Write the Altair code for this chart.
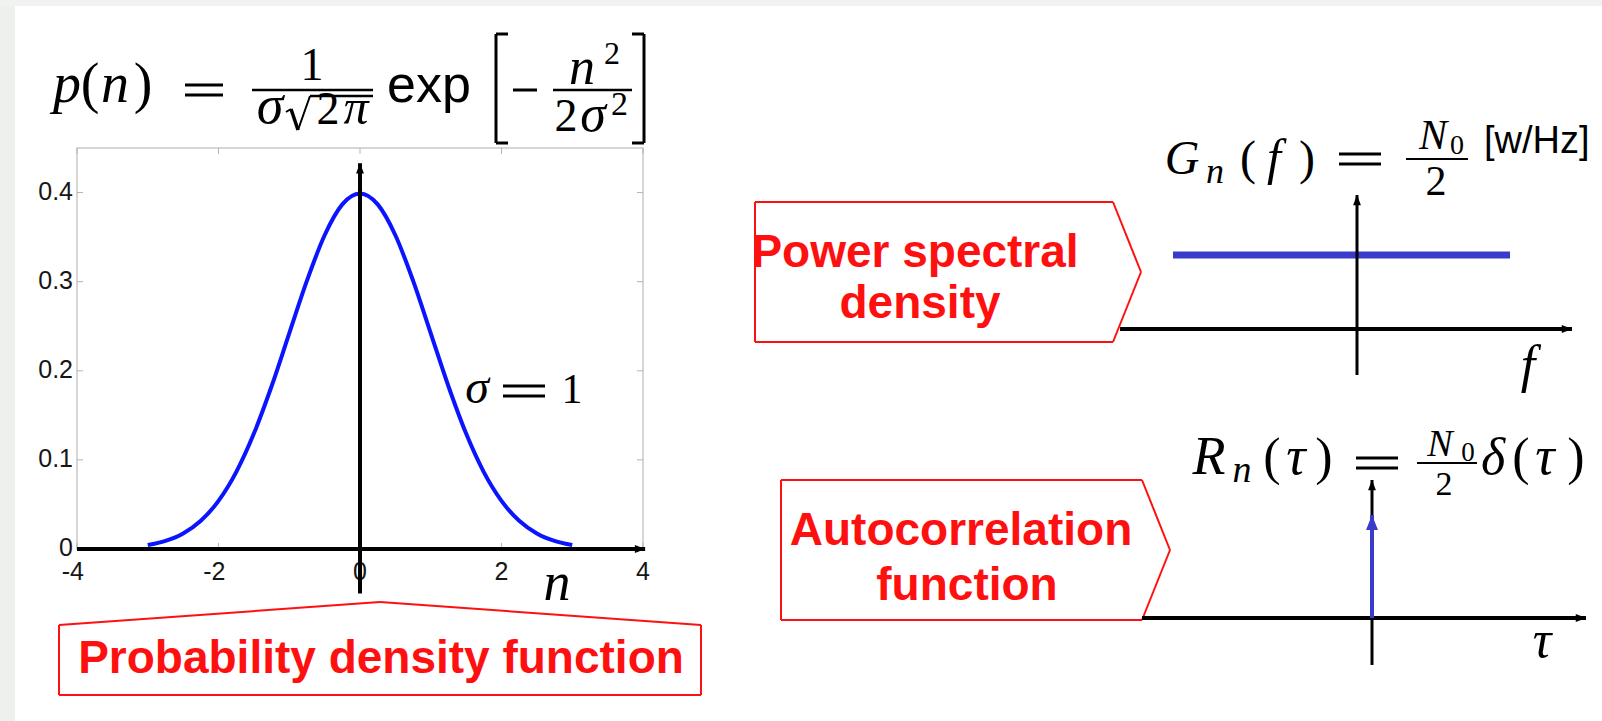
import altair as alt
import pandas as pd

# ---------------------------------------------------------------- data
# Gaussian noise pdf (sigma = 1), sampled along n
N_VALUES = [-3.0, -2.75, -2.5, -2.25, -2.0, -1.75, -1.5, -1.25, -1.0, -0.75, -0.5, -0.25, 0.0,
            0.25, 0.5, 0.75, 1.0, 1.25, 1.5, 1.75, 2.0, 2.25, 2.5, 2.75, 3.0]
PDF_VALUES = [0.0044, 0.0091, 0.0175, 0.0317, 0.0540, 0.0863, 0.1295, 0.1826, 0.2420, 0.3011,
              0.3521, 0.3867, 0.3989, 0.3867, 0.3521, 0.3011, 0.2420, 0.1826, 0.1295, 0.0863,
              0.0540, 0.0317, 0.0175, 0.0091, 0.0044]
X_TICKS = [-4, -2, 0, 2, 4]
X_TICK_LABELS = ["-4", "-2", "0", "2", "4"]
Y_TICKS = [0.0, 0.1, 0.2, 0.3, 0.4]
Y_TICK_LABELS = ["0", "0.1", "0.2", "0.3", "0.4"]

# white noise: flat PSD N0/2 and an impulse autocorrelation of weight N0/2
PSD_F = [-0.92, 0.765]
PSD_LEVEL = [0.5, 0.5]
ACF_TAU = [0.0]
ACF_WEIGHT = [0.5]

# extents of the drawn coordinate arrows (in each panel's own units)
N_AXIS_SPAN = [-4.0, 4.03]
P_AXIS_SPAN = [-0.05, 0.433]
F_AXIS_SPAN = [-1.185, 1.075]
G_AXIS_SPAN = [-0.311, 0.905]
TAU_AXIS_SPAN = [-1.15, 1.07]
R_AXIS_SPAN = [-0.228, 0.67]

# ---------------------------------------------------------------- style
SERIF = "Liberation Serif, Times New Roman, serif"
SANS = "Liberation Sans, Arial, sans-serif"
RED = "#ff1010"
FRAME_GREY = "#c9c9c9"
TICK_GREY = "#b4b4b4"
CURVE_BLUE = "#0a14ff"
NOISE_BLUE = "#3a3acb"
ARROW_RIGHT = "M1,0L-1,-0.75L-1,0.75Z"
ARROW_UP = "M0,-1L-0.75,1L0.75,1Z"
DELTA_HEAD = "M0,-1L0.8,1L-0.8,1Z"

# each panel gets its own scales, placed on the page through the range
XS = alt.Scale(domain=[-4, 4], range=[77, 643], nice=False, zero=False)
YS = alt.Scale(domain=[0, 0.45], range=[549, 148], nice=False, zero=False)
FS = alt.Scale(domain=[-1, 1], range=[1157, 1557], nice=False, zero=False)
GS = alt.Scale(domain=[0, 1], range=[329, 181], nice=False, zero=False)
TS = alt.Scale(domain=[-1, 1], range=[1172, 1572], nice=False, zero=False)
RS = alt.Scale(domain=[0, 1], range=[618, 412], nice=False, zero=False)

ONE = pd.DataFrame({"k": [0]})


def txt(s, x, y, size, font=SERIF, style="normal", weight="normal", color="black",
        align="left", baseline="alphabetic"):
    return alt.Chart(ONE).mark_text(
        text=s, font=font, fontSize=size, fontStyle=style, fontWeight=weight,
        color=color, align=align, baseline=baseline,
    ).encode(x=alt.value(x), y=alt.value(y))


def glyph(s, cx, y, size, style="normal"):
    """A single math glyph centred horizontally on cx, sitting on baseline y."""
    return txt(s, cx, y, size, style=style, align="center")


def seg(x1, y1, x2, y2, color="black", width=2.0, cap="butt"):
    return alt.Chart(ONE).mark_rule(color=color, strokeWidth=width, strokeCap=cap).encode(
        x=alt.value(x1), y=alt.value(y1), x2=alt.value(x2), y2=alt.value(y2)
    )


def equals(x1, x2, yc, gap=10, width=3.0):
    return [seg(x1, yc - gap / 2, x2, yc - gap / 2, width=width),
            seg(x1, yc + gap / 2, x2, yc + gap / 2, width=width)]


def arrow_axes(xs, ys, x_span, y_span, w_h, w_v):
    """Horizontal and vertical coordinate arrows crossing at the origin."""
    h = alt.Chart(pd.DataFrame({"a": [x_span[0]], "b": [x_span[1]], "z": [0.0]})).mark_rule(
        color="black", strokeWidth=w_h
    ).encode(x=alt.X("a:Q", scale=xs, axis=None), x2="b:Q", y=alt.Y("z:Q", scale=ys, axis=None))
    h_head = alt.Chart(pd.DataFrame({"a": [x_span[1]], "z": [0.0]})).mark_point(
        shape=ARROW_RIGHT, filled=True, size=110, color="black", opacity=1, xOffset=-5
    ).encode(x=alt.X("a:Q", scale=xs, axis=None), y=alt.Y("z:Q", scale=ys, axis=None))
    v = alt.Chart(pd.DataFrame({"a": [y_span[0]], "b": [y_span[1]], "z": [0.0]})).mark_rule(
        color="black", strokeWidth=w_v
    ).encode(x=alt.X("z:Q", scale=xs, axis=None), y=alt.Y("a:Q", scale=ys, axis=None), y2="b:Q")
    v_head = alt.Chart(pd.DataFrame({"a": [y_span[1]], "z": [0.0]})).mark_point(
        shape=ARROW_UP, filled=True, size=110, color="black", opacity=1, yOffset=5
    ).encode(x=alt.X("z:Q", scale=xs, axis=None), y=alt.Y("a:Q", scale=ys, axis=None))
    return h, h_head, v, v_head


# ---------------------------------------------------------------- page
page = [
    alt.Chart(ONE).mark_rect(color="#edf0ed").encode(
        x=alt.value(0), x2=alt.value(15), y=alt.value(0), y2=alt.value(721)),
    alt.Chart(ONE).mark_rect(color="#f1f3f1").encode(
        x=alt.value(0), x2=alt.value(1602), y=alt.value(0), y2=alt.value(6)),
]

# ---------------------------------------------------------------- left panel: pdf
frame_df = pd.DataFrame({"x0": [-4], "x1": [4], "y0": [0.0], "y1": [0.45]})
frame = alt.Chart(frame_df).mark_rect(fill="transparent", stroke=FRAME_GREY, strokeWidth=1.5).encode(
    x=alt.X("x0:Q", scale=XS, axis=None), x2="x1:Q",
    y=alt.Y("y0:Q", scale=YS, axis=None), y2="y1:Q")

xt = pd.DataFrame({"v": X_TICKS, "label": X_TICK_LABELS, "lo": 0.0, "hi": 0.45})
yt = pd.DataFrame({"v": Y_TICKS, "label": Y_TICK_LABELS, "lo": -4.0, "hi": 4.0})

ticks = [
    alt.Chart(xt).mark_rule(color=TICK_GREY, strokeWidth=1, y2Offset=6).encode(
        x=alt.X("v:Q", scale=XS, axis=None), y=alt.Y("hi:Q", scale=YS, axis=None), y2="hi:Q"),
    alt.Chart(xt).mark_rule(color=TICK_GREY, strokeWidth=1, y2Offset=-6).encode(
        x=alt.X("v:Q", scale=XS, axis=None), y=alt.Y("lo:Q", scale=YS, axis=None), y2="lo:Q"),
    alt.Chart(yt).mark_rule(color=TICK_GREY, strokeWidth=1, x2Offset=6).encode(
        y=alt.Y("v:Q", scale=YS, axis=None), x=alt.X("lo:Q", scale=XS, axis=None), x2="lo:Q"),
    alt.Chart(yt).mark_rule(color=TICK_GREY, strokeWidth=1, x2Offset=-6).encode(
        y=alt.Y("v:Q", scale=YS, axis=None), x=alt.X("hi:Q", scale=XS, axis=None), x2="hi:Q"),
]

x_labels = alt.Chart(xt).mark_text(font=SANS, fontSize=25, align="right", baseline="middle",
                                   dx=7, dy=23, color="#161616").encode(
    x=alt.X("v:Q", scale=XS, axis=None), y=alt.Y("lo:Q", scale=YS, axis=None), text="label:N")
y_labels = alt.Chart(yt).mark_text(font=SANS, fontSize=25, align="right", baseline="middle",
                                   dx=-4, dy=-1, color="#161616").encode(
    x=alt.X("lo:Q", scale=XS, axis=None), y=alt.Y("v:Q", scale=YS, axis=None), text="label:N")

curve = alt.Chart(pd.DataFrame({"n": N_VALUES, "p": PDF_VALUES})).mark_line(
    color=CURVE_BLUE, strokeWidth=4, interpolate="monotone").encode(
    x=alt.X("n:Q", scale=XS, axis=None), y=alt.Y("p:Q", scale=YS, axis=None))

pdf_panel = alt.layer(frame, *ticks, curve, x_labels, y_labels,
                      *arrow_axes(XS, YS, N_AXIS_SPAN, P_AXIS_SPAN, 4, 4))

# ---------------------------------------------------------------- right top: PSD
psd_line = alt.Chart(pd.DataFrame({"f": PSD_F, "g": PSD_LEVEL})).mark_line(
    color=NOISE_BLUE, strokeWidth=7, strokeCap="butt").encode(
    x=alt.X("f:Q", scale=FS, axis=None), y=alt.Y("g:Q", scale=GS, axis=None))
psd_panel = alt.layer(psd_line, *arrow_axes(FS, GS, F_AXIS_SPAN, G_AXIS_SPAN, 4, 3))

# ---------------------------------------------------------------- right bottom: autocorrelation
acf_df = pd.DataFrame({"tau": ACF_TAU, "w": ACF_WEIGHT, "z": [0.0] * len(ACF_TAU)})
acf_axes = arrow_axes(TS, RS, TAU_AXIS_SPAN, R_AXIS_SPAN, 4, 3)
delta_stem = alt.Chart(acf_df).mark_rule(color=NOISE_BLUE, strokeWidth=4).encode(
    x=alt.X("tau:Q", scale=TS, axis=None), y=alt.Y("z:Q", scale=RS, axis=None), y2="w:Q")
delta_head = alt.Chart(acf_df).mark_point(shape=DELTA_HEAD, filled=True, size=225,
                                          color=NOISE_BLUE, opacity=1, yOffset=7.5).encode(
    x=alt.X("tau:Q", scale=TS, axis=None), y=alt.Y("w:Q", scale=RS, axis=None))
acf_panel = alt.layer(*acf_axes, delta_stem, delta_head)

# ---------------------------------------------------------------- callouts
callouts = [
    # pdf: box with a roof pointing up at the curve
    seg(59, 625, 380, 602, RED, 2), seg(380, 602, 701, 625, RED, 2),
    seg(59, 625, 59, 695, RED, 2), seg(701, 625, 701, 695, RED, 2),
    seg(59, 695, 701, 695, RED, 2),
    txt("Probability density function", 381, 673, 46, SANS, weight="bold", color=RED, align="center"),
    # psd: box pointing right
    seg(755, 202, 1113, 202, RED, 2), seg(755, 202, 755, 342, RED, 2),
    seg(755, 342, 1113, 342, RED, 2), seg(1113, 202, 1141, 272, RED, 2),
    seg(1141, 272, 1113, 342, RED, 2),
    txt("Power spectral", 915, 267, 46, SANS, weight="bold", color=RED, align="center"),
    txt("density", 920, 318, 46, SANS, weight="bold", color=RED, align="center"),
    # autocorrelation: box pointing right
    seg(781, 480, 1142, 480, RED, 2), seg(781, 480, 781, 620, RED, 2),
    seg(781, 620, 1142, 620, RED, 2), seg(1142, 480, 1170, 550, RED, 2),
    seg(1170, 550, 1142, 620, RED, 2),
    txt("Autocorrelation", 961, 545, 46, SANS, weight="bold", color=RED, align="center"),
    txt("function", 967, 600, 46, SANS, weight="bold", color=RED, align="center"),
]

# ---------------------------------------------------------------- formulas and axis names
pdf_formula = [
    glyph("p", 67, 102, 56, "italic"),
    glyph("(", 90, 102, 56),
    glyph("n", 115, 102, 56, "italic"),
    glyph(")", 143, 102, 56),
    *equals(185, 223, 90),
    seg(252, 90, 373, 90, width=2.5),
    glyph("1", 312, 80, 46),
    glyph("σ", 270, 123, 54, "italic"),
    seg(286, 112, 291, 109, width=2), seg(291, 109, 298, 130, width=3.5),
    seg(298, 130, 310, 96, width=2), seg(310, 96, 373, 96, width=2.5),
    glyph("2", 328, 124, 46),
    glyph("π", 356, 124, 50, "italic"),
    txt("exp", 387, 102, 52, SANS),
    seg(496, 34, 496, 143, width=3), seg(496, 34, 508, 34, width=3), seg(496, 143, 508, 143, width=3),
    seg(513, 90, 537, 90, width=3),
    seg(553, 90, 632, 90, width=2.5),
    glyph("n", 582, 84, 52, "italic"),
    txt("2", 604, 64, 32),
    glyph("2", 566, 131, 46),
    glyph("σ", 593, 131, 52, "italic"),
    txt("2", 611, 115, 34),
    seg(644, 34, 644, 143, width=3), seg(632, 34, 644, 34, width=3), seg(632, 143, 644, 143, width=3),
]
sigma_note = [
    glyph("σ", 477, 403, 48, "italic"),
    *equals(503, 545, 391, gap=10, width=3),
    glyph("1", 572, 403, 42),
]
psd_formula = [
    glyph("G", 1182, 174, 48, "italic"),
    glyph("n", 1215, 183, 36, "italic"),
    glyph("(", 1248, 174, 48),
    glyph("f", 1274, 174, 50, "italic"),
    glyph(")", 1307, 174, 48),
    *equals(1339, 1381, 159),
    seg(1406, 159, 1468, 159, width=2),
    glyph("N", 1433, 149, 42, "italic"),
    glyph("0", 1457, 154, 28),
    glyph("2", 1436, 195, 42),
    txt("[w/Hz]", 1484, 153, 38, SANS),
]
acf_formula = [
    glyph("R", 1209, 474, 54, "italic"),
    glyph("n", 1242, 482, 38, "italic"),
    glyph("(", 1272, 474, 52),
    glyph("τ", 1296, 474, 54, "italic"),
    glyph(")", 1324, 474, 52),
    *equals(1356, 1398, 463),
    seg(1417, 463, 1477, 463, width=2),
    glyph("N", 1440, 456, 38, "italic"),
    glyph("0", 1468, 461, 27),
    glyph("2", 1444, 495, 34),
    glyph("δ", 1493, 474, 52, "italic"),
    glyph("(", 1521, 474, 52),
    glyph("τ", 1545, 474, 54, "italic"),
    glyph(")", 1576, 474, 52),
]
axis_names = [
    glyph("n", 557, 600, 54, "italic"),
    glyph("f", 1528, 382, 52, "italic"),
    glyph("τ", 1542, 657, 52, "italic"),
]

chart = alt.layer(
    *page, *callouts, pdf_panel, psd_panel, acf_panel,
    *pdf_formula, *sigma_note, *psd_formula, *acf_formula, *axis_names,
).resolve_scale(x="independent", y="independent").properties(
    width=1602, height=721, padding=0, autosize=alt.AutoSizeParams(type="none"),
).configure_view(stroke=None).configure(background="white")

chart.save("out.html", embed_options={"renderer": "svg", "actions": False})
